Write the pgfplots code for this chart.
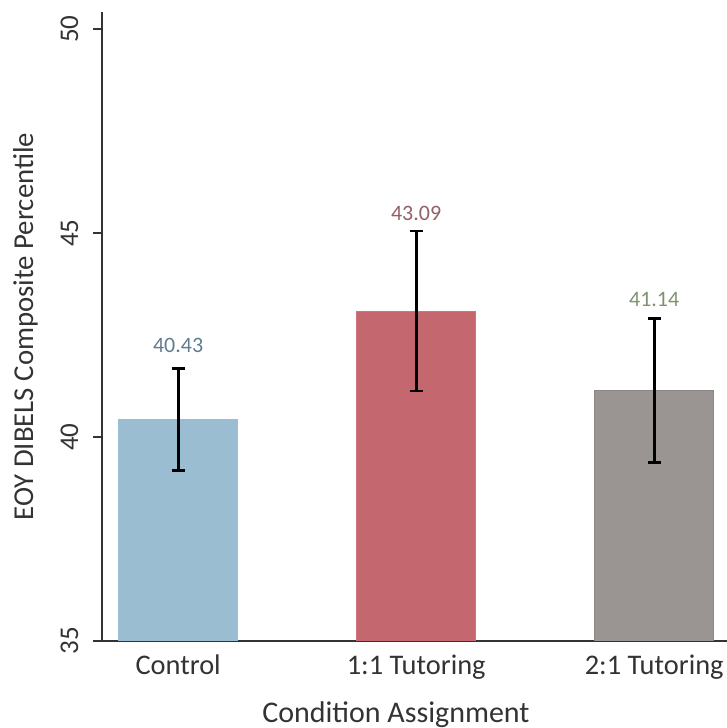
\documentclass[border=0pt]{standalone}
\usepackage{pgfplots}
\pgfplotsset{compat=1.18}
\usepackage{fontspec}
\setmainfont{Carlito}
\definecolor{cctrl}{HTML}{9BBDD2}
\definecolor{cone}{HTML}{C5676F}
\definecolor{ctwo}{HTML}{9A9593}
\definecolor{tctrl}{HTML}{607C90}
\definecolor{tone}{HTML}{945F67}
\definecolor{ttwo}{HTML}{7F9270}
\definecolor{axc}{HTML}{333333}
\begin{document}
\begin{tikzpicture}
\useasboundingbox (0,0) rectangle (363.5bp,364bp);
\begin{axis}[
  at={(51bp,43.5bp)}, anchor=south west,
  scale only axis, width=312.5bp, height=314.5bp,
  xmin=-0.32, xmax=2.306, ymin=35, ymax=50.42,
  axis lines*=left,
  axis line style={axc, line width=0.75bp},
  every tick/.style={axc, line width=0.75bp},
  tick align=outside, major tick length=4.5bp,
  ytick={35,40,45,50},
  xtick={0,1,2},
  xticklabels={Control,1:1 Tutoring,2:1 Tutoring},
  xtick style={draw=none},
  xticklabel style={font=\fontsize{14.2bp}{17bp}\selectfont, text=axc, anchor=base, yshift=-12bp, inner sep=0pt},
  yticklabel style={font=\fontsize{13.5bp}{16bp}\selectfont, text=axc, anchor=base, rotate=90, inner sep=0pt},
  yticklabel shift=7.5bp,
  /pgf/number format/assume math mode=true,
  every axis y label/.style={at={(axis description cs:0,0.5)}, xshift=-34.5bp, rotate=90, anchor=base, inner sep=0pt},
  ylabel={EOY DIBELS Composite Percentile},
  ylabel style={font=\fontsize{14.4bp}{17bp}\selectfont, text=axc},
  every axis x label/.style={at={(axis cs:0.915,35)}, yshift=-40.5bp, anchor=base, inner sep=0pt},
  xlabel={Condition Assignment},
  xlabel style={font=\fontsize{15bp}{18bp}\selectfont, text=axc},
  ybar, bar width=0.5,
  clip=true,
]
\addplot[bar shift=0pt, fill=cctrl, draw=cctrl,
  error bars/.cd, y dir=both, y explicit,
  error bar style={black, line width=1.4bp},
  error mark=-,
  error mark options={rotate=90, black, line width=1.4bp, mark size=3.25bp}]
  coordinates {(0,40.43) +- (0,1.26)};
\addplot[bar shift=0pt, fill=cone, draw=cone!90!white,
  error bars/.cd, y dir=both, y explicit,
  error bar style={black, line width=1.4bp},
  error mark=-,
  error mark options={rotate=90, black, line width=1.4bp, mark size=3.25bp}]
  coordinates {(1,43.09) +- (0,1.96)};
\addplot[bar shift=0pt, fill=ctwo, draw=ctwo!90!black,
  error bars/.cd, y dir=both, y explicit,
  error bar style={black, line width=1.4bp},
  error mark=-,
  error mark options={rotate=90, black, line width=1.4bp, mark size=3.25bp}]
  coordinates {(2,41.14) +- (0,1.76)};
\node[text=tctrl, font=\fontsize{11bp}{13bp}\selectfont] at (axis cs:0,42.25) {40.43};
\node[text=tone, font=\fontsize{11bp}{13bp}\selectfont] at (axis cs:1,45.49) {43.09};
\node[text=ttwo, font=\fontsize{11bp}{13bp}\selectfont] at (axis cs:2,43.36) {41.14};
\end{axis}
\end{tikzpicture}
\end{document}
